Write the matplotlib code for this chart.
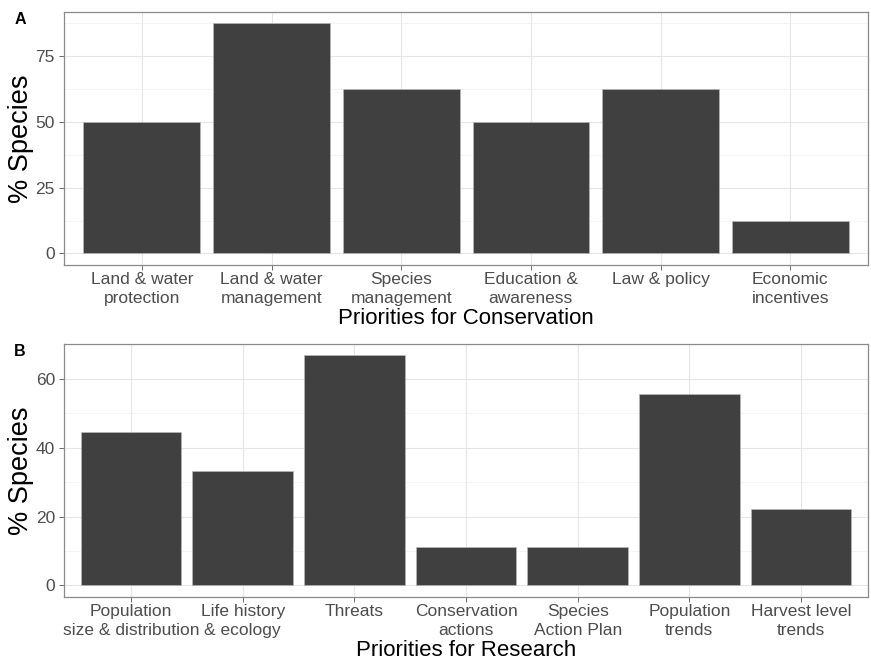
import numpy as np
import matplotlib.pyplot as plt

plt.rcParams['font.family'] = ['Liberation Sans', 'DejaVu Sans']

cons_labels = ['Land & water\nprotection', 'Land & water\nmanagement', 'Species\nmanagement',
               'Education &\nawareness', 'Law & policy', 'Economic\nincentives']
cons_values = [50.0, 87.5, 62.5, 50.0, 62.5, 12.5]

res_labels = ['Population\nsize & distribution', 'Life history\n& ecology', 'Threats',
              'Conservation\nactions', 'Species\nAction Plan', 'Population\ntrends',
              'Harvest level\ntrends']
res_values = [44.4, 33.3, 66.7, 11.1, 11.1, 55.6, 22.2]

fig = plt.figure(figsize=(8.71, 6.62), dpi=100)
axA = fig.add_axes([0.0735, 0.5997, 0.9231, 0.3822])
axB = fig.add_axes([0.0735, 0.0982, 0.9231, 0.3822])


def panel(ax, labels, values, yticks, xlabel, tag):
    n = len(values)
    x = np.arange(n)
    ymax = max(values)
    ax.set_axisbelow(True)
    ax.bar(x, values, width=0.9, color='#404040', edgecolor='#bdbdbd', linewidth=0.4, zorder=2)
    ax.set_xlim(-0.6, n - 0.4)
    ax.set_ylim(-ymax * 0.05, ymax * 1.05)
    ax.set_xticks(x)
    ax.set_xticklabels(labels, fontsize=12.5, color='#4d4d4d', linespacing=1.3)
    ax.set_yticks(yticks)
    ax.set_yticklabels([str(t) for t in yticks], fontsize=12.5, color='#4d4d4d')
    minor = [(yticks[i] + yticks[i + 1]) / 2 for i in range(len(yticks) - 1)]
    if yticks[-1] + (yticks[1] - yticks[0]) / 2 < ymax * 1.05:
        minor.append(yticks[-1] + (yticks[1] - yticks[0]) / 2)
    ax.set_yticks(minor, minor=True)
    ax.tick_params(axis='y', which='minor', length=0)
    ax.tick_params(axis='both', which='major', length=3.5, color='#555555', width=0.6, pad=3)
    ax.tick_params(axis='x', which='major', pad=1.5)
    ax.grid(True, which='major', color='#e5e5e5', linewidth=0.8)
    ax.grid(True, which='minor', axis='y', color='#f0f0f0', linewidth=0.5)
    for s in ax.spines.values():
        s.set_color('#8a8a8a')
        s.set_linewidth(0.9)
    ax.set_xlabel(xlabel, fontsize=16, color='black', labelpad=2)
    ax.set_ylabel('% Species', fontsize=19.5, color='black', labelpad=1)
    ax.text(-0.062, 1.0, tag, transform=ax.transAxes, fontsize=11.5, fontweight='bold',
            ha='left', va='top')


panel(axA, cons_labels, cons_values, [0, 25, 50, 75], 'Priorities for Conservation', 'A')
panel(axB, res_labels, res_values, [0, 20, 40, 60], 'Priorities for Research', 'B')

fig.savefig('out.png', dpi=100)
